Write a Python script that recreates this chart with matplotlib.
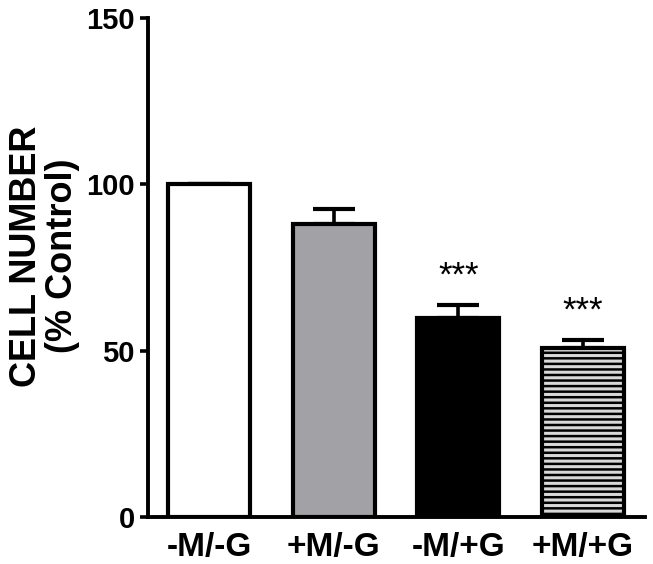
import numpy as np
import matplotlib.pyplot as plt

plt.rcParams['font.family'] = ['Liberation Sans', 'DejaVu Sans']
plt.rcParams['font.weight'] = 'bold'
plt.rcParams['hatch.linewidth'] = 1.8
plt.rcParams['hatch.color'] = '#505050'

# data
groups = ['-M/-G', '+M/-G', '-M/+G', '+M/+G']
means = [100.0, 88.0, 59.8, 50.8]
sem = [0.0, 4.6, 3.8, 2.5]
stars = ['', '', '***', '***']
fills = ['white', '#a2a2a6', 'black', '#d8d8d8']
hatches = [None, None, None, '---']

fig = plt.figure(figsize=(6.53, 5.64), dpi=100)
ax = fig.add_axes([0.2266, 0.0833, 0.7614, 0.885])

x = np.arange(len(groups))
for i in range(len(groups)):
    ax.bar(x[i], means[i], width=0.66, color=fills[i], edgecolor='black',
           linewidth=3.0, hatch=hatches[i], zorder=2)

lower = np.zeros(len(sem))
ax.errorbar(x, means, yerr=[lower, sem], fmt='none', ecolor='black',
            elinewidth=2.6, capsize=15, capthick=3.0, zorder=1)

for i in range(len(groups)):
    if stars[i]:
        ax.annotate(stars[i], (x[i], means[i] + sem[i]), xytext=(0, 9),
                    textcoords='offset points', ha='center', va='bottom',
                    fontsize=25, fontweight='normal')

ax.set_xlim(-0.49, 3.5)
ax.set_ylim(0, 150)
ax.set_yticks([0, 50, 100, 150])
ax.set_xticks(x)
ax.set_xticklabels(groups, fontsize=24, fontweight='bold')
ax.tick_params(axis='y', labelsize=21, width=2.6, length=6, direction='out')
ax.tick_params(axis='x', length=0, pad=11)
for lbl in ax.get_yticklabels():
    lbl.set_fontweight('bold')

ax.spines['top'].set_visible(False)
ax.spines['right'].set_visible(False)
ax.spines['left'].set_linewidth(2.8)
ax.spines['bottom'].set_linewidth(2.8)

ax.set_ylabel('CELL NUMBER\n(% Control)', fontsize=26, fontweight='bold',
              linespacing=1.05)
ax.yaxis.set_label_coords(-0.137, 0.523)

fig.savefig('out.png', dpi=100)
